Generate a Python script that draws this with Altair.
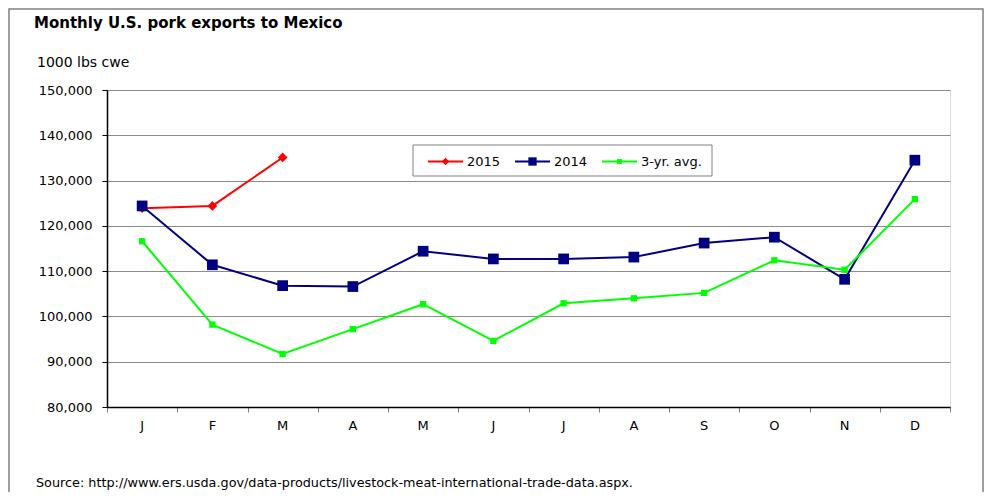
import altair as alt
import pandas as pd

# ---- data ----
months = ["J", "F", "M", "A", "M", "J", "J", "A", "S", "O", "N", "D"]
series_names = ["2015", "2014", "3-yr. avg."]
v2015 = [123900, 124400, 135100]
v2014 = [124400, 111400, 106800, 106600, 114400, 112700, 112700, 113100, 116200, 117500, 108200, 134500]
avg3 = [116600, 98200, 91700, 97200, 102700, 94600, 102900, 104000, 105200, 112400, 110300, 125900]
y_ticks = [80000, 90000, 100000, 110000, 120000, 130000, 140000, 150000]

title_text = "Monthly U.S. pork exports to Mexico"
unit_text = "1000 lbs cwe"
source_text = "Source:  http://www.ers.usda.gov/data-products/livestock-meat-international-trade-data.aspx."

# ---- styles ----
colors = {"2015": "#ff0000", "2014": "#000080", "3-yr. avg.": "#00ff00"}
shapes = {"2015": "diamond", "2014": "square", "3-yr. avg.": "square"}
sizes = {"2015": 95, "2014": 115, "3-yr. avg.": 40}
FONT = "DejaVu Sans"
W, H = 843, 317

values = {"2015": v2015, "2014": v2014, "3-yr. avg.": avg3}


def series_df(name):
    vals = values[name]
    return pd.DataFrame({"idx": list(range(len(vals))), "value": vals, "series": name})


X = alt.X(
    "xpos:Q",
    scale=alt.Scale(domain=[0, 12], nice=False, zero=False),
    axis=alt.Axis(values=list(range(13)), labels=False, title=None, grid=False,
                  tickSize=5, tickColor="#808080", domainColor="#000000", domainWidth=1.5),
)
Y = alt.Y(
    "value:Q",
    scale=alt.Scale(domain=[80000, 150000], nice=False, zero=False),
    axis=alt.Axis(values=y_ticks, format=",d", title=None, grid=True, gridColor="#8c8c8c",
                  gridWidth=1, tickSize=5, tickColor="#000000", labelPadding=10,
                  labelFontSize=13, labelColor="#000000", labelFont=FONT,
                  domainColor="#000000", domainWidth=1.5),
)

layers = []
for name in ["2015", "2014", "3-yr. avg."]:
    base = alt.Chart(series_df(name)).transform_calculate(xpos="datum.idx + 0.5")
    layers.append(base.mark_line(color=colors[name], strokeWidth=2).encode(x=X, y=Y))
    layers.append(
        base.mark_point(shape=shapes[name], filled=True, size=sizes[name], opacity=1,
                        color=colors[name]).encode(x=X, y=Y)
    )

# month labels through the x scale
mdf = pd.DataFrame({"idx": list(range(12)), "month": months})
layers.append(
    alt.Chart(mdf).transform_calculate(xpos="datum.idx + 0.5")
    .mark_text(fontSize=13, font=FONT, color="#000000", baseline="middle")
    .encode(x=X, y=alt.value(H + 19), text="month:N")
)

one = pd.DataFrame({"a": [0]})

# legend box
LX0, LX1, LY0, LY1 = 306, 605, 55, 86
LYC = 71.5
layers.append(
    alt.Chart(one).mark_rect(fill="white", stroke="#808080", strokeWidth=1)
    .encode(x=alt.value(LX0), x2=alt.value(LX1), y=alt.value(LY0), y2=alt.value(LY1))
)
leg_x = {"2015": 321, "2014": 408, "3-yr. avg.": 495}
for name in series_names:
    x0 = leg_x[name]
    layers.append(
        alt.Chart(one).mark_rule(color=colors[name], strokeWidth=2)
        .encode(x=alt.value(x0), x2=alt.value(x0 + 35), y=alt.value(LYC))
    )
    layers.append(
        alt.Chart(one).mark_point(shape=shapes[name], filled=True, opacity=1,
                                  size=sizes[name] * 0.6, color=colors[name])
        .encode(x=alt.value(x0 + 17.5), y=alt.value(LYC))
    )
    layers.append(
        alt.Chart(one).mark_text(text=name, fontSize=13, font=FONT, align="left",
                                 baseline="middle", color="#000000")
        .encode(x=alt.value(x0 + 39), y=alt.value(LYC))
    )

# title, unit and source text
layers.append(
    alt.Chart(one).mark_text(text=title_text, fontSize=15, fontWeight="bold", font=FONT,
                             align="left", baseline="middle", color="#000000")
    .encode(x=alt.value(-73), y=alt.value(-67))
)
layers.append(
    alt.Chart(one).mark_text(text=unit_text, fontSize=14, font=FONT, align="left",
                             baseline="middle", color="#000000")
    .encode(x=alt.value(-70), y=alt.value(-27))
)
layers.append(
    alt.Chart(one).mark_text(text=source_text, fontSize=12.8, font=FONT, align="left",
                             baseline="middle", color="#000000")
    .encode(x=alt.value(-71), y=alt.value(393))
)

# outer frame
layers.append(
    alt.Chart(one).mark_rect(fill=None, stroke="#808080", strokeWidth=1.5)
    .encode(x=alt.value(-98), x2=alt.value(876), y=alt.value(-81), y2=alt.value(500))
)

chart = alt.layer(*layers).properties(
    width=W, height=H,
    autosize=alt.AutoSizeParams(type="none"),
    padding={"left": 99, "top": 82, "right": 34, "bottom": 85},
).configure_view(stroke="#808080", strokeWidth=1).configure(font=FONT)

chart.save("out.html", embed_options={"renderer": "svg", "actions": False})
